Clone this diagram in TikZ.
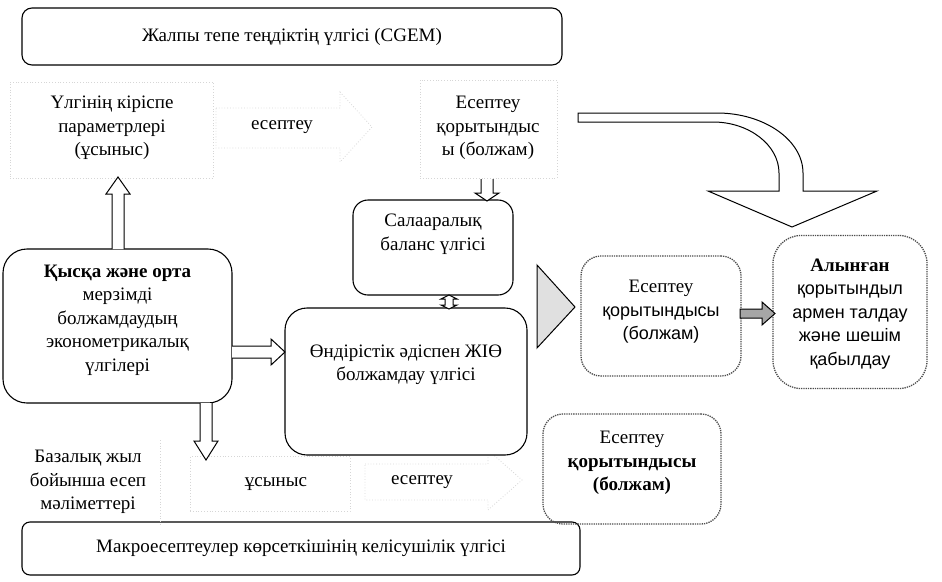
\documentclass[tikz,border=0pt]{standalone}
\usepackage{fontspec}
\setmainfont{Liberation Serif}
\newfontfamily\sansf{Liberation Sans}
\begin{document}
\begin{tikzpicture}[x=1pt,y=-1pt,
  txt/.style={align=center, inner sep=0pt, font=\fontsize{19}{23.5}\selectfont},
  stxt/.style={align=center, inner sep=0pt, font=\fontsize{18}{23.5}\selectfont},
  solidbox/.style={draw=black, line width=1.1pt, fill=white, inner sep=0pt},
  dotbox/.style={draw=black!70, line width=1.3pt, densely dotted, inner sep=0pt},
  faintbox/.style={draw=black!16, line width=0.8pt, dotted, inner sep=0pt},
  blk/.style={draw=black, line width=1pt, fill=white, line join=miter},
]
\useasboundingbox (0,0) rectangle (942,581);

% top and bottom models
\node[solidbox, rounded corners=10pt, minimum width=540pt, minimum height=57pt, txt] (T) at (292,36.5) {Жалпы тепе теңдіктің үлгісі (CGEM)};
\node[solidbox, rounded corners=8pt, minimum width=558pt, minimum height=53pt, txt] (Bm) at (301,548.5) {Макроесептеулер көрсеткішінің келісушілік үлгісі};

% faint row 1
\node[faintbox, minimum width=203pt, minimum height=96pt] (inpbox) at (111.5,130) {};
\node[txt] (inp) at (112,128) {Үлгінің кіріспе\\параметрлері\\(ұсыныс)};
\draw[faintbox] (216,108) -- (340,108) -- (340,92) -- (372,127) -- (340,162) -- (340,148) -- (216,148) -- cycle;
\node[txt] (calc1) at (282,127) {есептеу};
\node[faintbox, minimum width=137pt, minimum height=98pt] (res1box) at (488.5,129) {};
\node[txt] (res1) at (488,128) {Есептеу\\қорытындыс\\ы (болжам)};

% faint row 2
\draw[faintbox] (160,440) -- (160,525);
\node[txt] (base) at (88,482) {Базалық жыл\\бойынша есеп\\мәліметтері};
\node[faintbox, minimum width=160pt, minimum height=55pt] (usybox) at (270,484) {};
\node[txt] (usy) at (276,484) {ұсыныс};
\draw[faintbox] (365,464) -- (488,464) -- (488,450) -- (522,480) -- (488,510) -- (488,500) -- (365,500) -- cycle;
\node[txt] (calc2) at (422,482) {есептеу};

% solid boxes
\node[solidbox, rounded corners=15pt, minimum width=160pt, minimum height=95pt] (S) at (433,247.5) {};
\node[txt] (St) at (433,234) {Салааралық\\баланс үлгісі};
\node[solidbox, rounded corners=22pt, minimum width=242pt, minimum height=147pt] (P) at (406,381.5) {};
\node[txt] (Pt) at (406,365) {Өндірістік әдіспен ЖІӨ\\болжамдау үлгісі};
\node[solidbox, rounded corners=24pt, minimum width=229pt, minimum height=154pt] (Q) at (117.5,326) {};
\node[txt] (Qt) at (117.5,320) {\textbf{Қысқа және орта}\\мерзімді\\болжамдаудың\\эконометрикалық\\үлгілері};

% dotted result boxes
\node[dotbox, rounded corners=20pt, minimum width=160pt, minimum height=120pt] (M) at (661,316) {};
\node[txt] (Mt) at (661,312) {Есептеу\\{\sansf\fontsize{18}{23.5}\selectfont қорытындысы}\\{\sansf\fontsize{18}{23.5}\selectfont (болжам)}};
\node[dotbox, rounded corners=28pt, minimum width=154pt, minimum height=153pt] (R) at (850,312) {};
\node[txt] (Rt) at (850,314) {\textbf{Алынған}\\{\sansf\fontsize{18}{23.5}\selectfont қорытындыл}\\{\sansf\fontsize{18}{23.5}\selectfont армен талдау}\\{\sansf\fontsize{18}{23.5}\selectfont және шешім}\\{\sansf\fontsize{18}{23.5}\selectfont қабылдау}};
\node[dotbox, rounded corners=20pt, minimum width=178pt, minimum height=110pt] (L) at (632,469) {};
\node[txt] (Lt) at (632,463) {Есептеу\\\textbf{қорытындысы}\\\textbf{(болжам)}};

% block arrows
\draw[blk] (112,249) -- (112,194) -- (106,194) -- (118,177) -- (130,194) -- (124,194) -- (124,249);
\draw[blk] (200,403) -- (200,441) -- (194,441) -- (206,460) -- (218,441) -- (212,441) -- (212,403);
\draw[blk] (481,179) -- (481,193) -- (475,193) -- (487,201) -- (499,193) -- (493,193) -- (493,179);
\draw[blk] (232,346) -- (271,346) -- (271,339) -- (285,352) -- (271,365) -- (271,358) -- (232,358);
\draw[blk] (445,299) -- (441,299) -- (449,295) -- (457,299) -- (453,299) -- (453,305) -- (457,305) -- (449,309) -- (441,305) -- (445,305) -- cycle;
\draw[blk, fill=black!12] (537,265) -- (575,307) -- (537,348) -- cycle;
\draw[blk, fill=black!35] (740,309) -- (762,309) -- (762,302) -- (775,313.5) -- (762,325) -- (762,318) -- (740,318) -- cycle;

% curved arrow
\draw[blk] (578,113) -- (717,113) .. controls (764,113) and (803,140) .. (803,173) -- (803,191) -- (877,191) -- (792,227) -- (708,191) -- (779,191) -- (779,173) .. controls (779,145) and (749,122) .. (713,122) -- (578,122) -- cycle;
\end{tikzpicture}
\end{document}
